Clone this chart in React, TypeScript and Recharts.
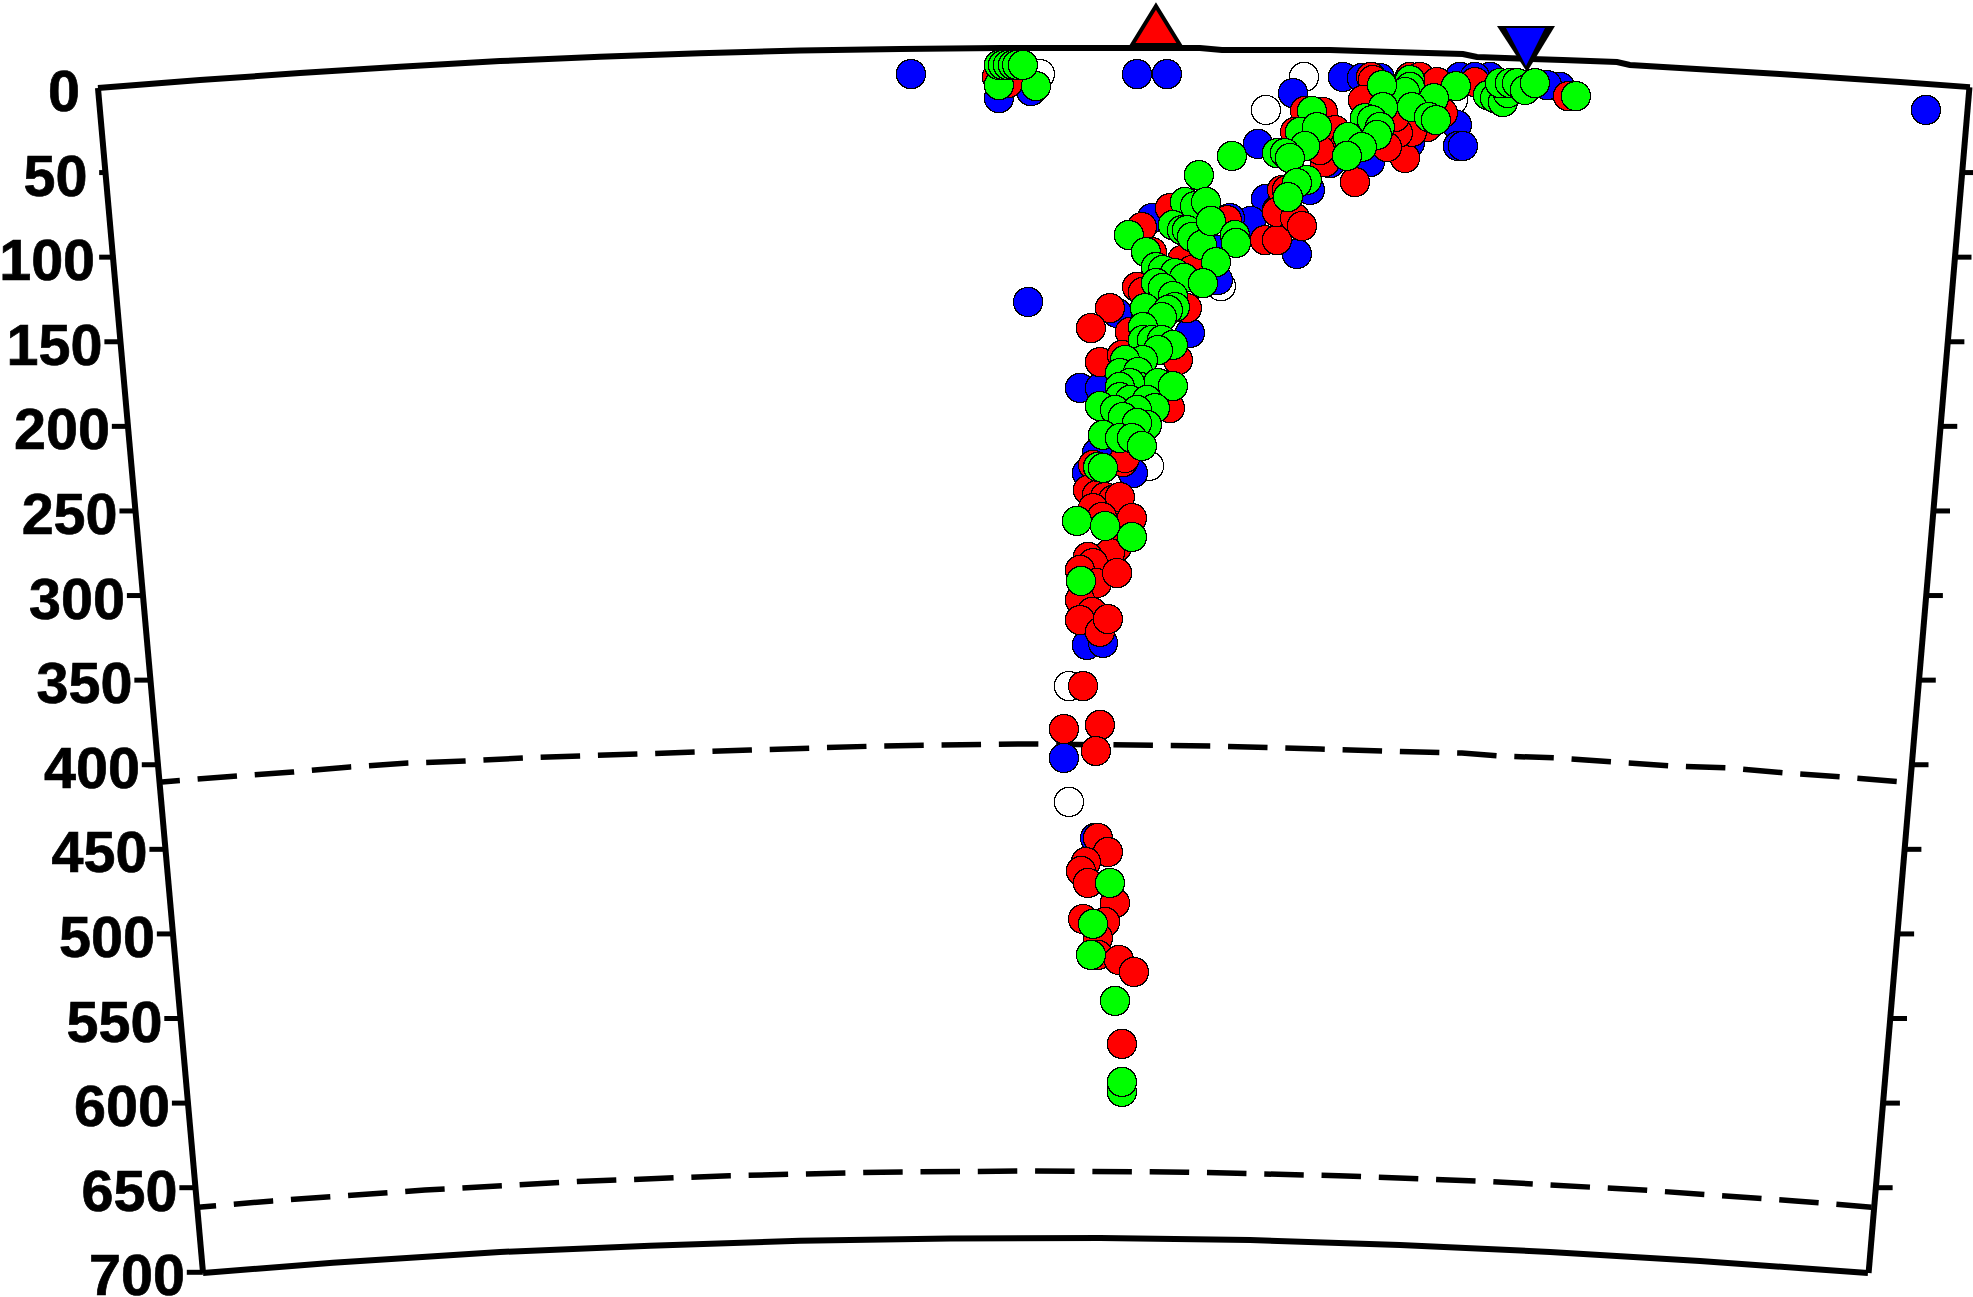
import React from "react";
import { ScatterChart, Scatter, XAxis, YAxis, ReferenceLine } from "recharts";

type P = [number, number];

// All positions in km: distance along the section, and vertical distance below the apex of the surface arc.
const depthTicks = [50, 100, 150, 200, 250, 300, 350, 400, 450, 500, 550, 600, 650, 700];
const leftEdgeKm = [-548.8, -544.3, -539.9, -535.5, -531, -526.6, -522.2, -517.8, -513.3, -508.9, -504.5, -500, -495.6, -491.2];
const rightEdgeKm = [548.4, 544.1, 539.9, 535.7, 531.4, 527.2, 523, 518.7, 514.5, 510.2, 506, 501.8, 497.5];
const surfaceArcY = 23.6;

const topArc: P[] = [[-553.2, 23.6], [-492.9, 18.9], [-433.8, 14.8], [-374.7, 11], [-315.6, 7.7], [-256.5, 5.2], [-197.4, 3.1], [-138.3, 1.5], [-79.2, 0.5], [-20, 0], [98.1, 0], [111.1, 1.2], [174.9, 1.2], [212.2, 2.4], [253.5, 3.5], [261.8, 5.3], [312.6, 7.1], [344.6, 8.3], [352.2, 10], [440.9, 15.4], [511.8, 20.1], [553.2, 23.1]];
const bottomArc: P[] = [[-491.1, 724], [-414.3, 718], [-315.6, 711.6], [-226.9, 707.9], [-138.3, 705], [-49.6, 703.6], [39, 703.3], [127.7, 704.5], [216.3, 707.4], [305, 711.6], [393.6, 716.9], [492.9, 724]];
const leftEdge: P[] = [[-553.2, 23.6], [-491.1, 724]];
const rightEdge: P[] = [[552.9, 23.1], [493.3, 724]];
const disc410: P[] = [[-515.4, 433.8], [-471, 430.2], [-438, 427.9], [-404.2, 424.9], [-370, 422.6], [-336.3, 421.4], [-302, 419.6], [-268.3, 418.4], [-234.6, 417.3], [-167.8, 414.9], [-91, 412.5], [-2.4, 411.3], [105.8, 412.5], [169, 414.3], [228.1, 416.1], [252.9, 416.7], [274.8, 418.4], [309.1, 419.6], [342.8, 422], [377, 424.3], [410.7, 425.5], [445, 428.5], [478.7, 430.9], [513, 433.8]];
const disc660: P[] = [[-494, 685.1], [-450, 681.4], [-360, 675], [-270, 670], [-180, 666.5], [-90, 664.4], [0, 663.7], [90, 664.4], [180, 666.5], [270, 670], [360, 675], [450, 681.4], [495, 685.1]];

const redStation: P[] = [[72.1, -1.8]];
const blueStation: P[] = [[291.4, -13]];

const whiteEvents: P[] = [[3.5, 15.4], [137.1, 36.6], [110.5, 140.7], [159.6, 17.1], [247.6, 30.7], [68, 247], [20.7, 377.1], [20.7, 445.6]];

const blueEvents: P[] = [[-72.7, 15.4], [-20.7, 29.6], [-1.8, 25.4], [60.9, 15.4], [78.6, 15.4], [527.2, 36.6], [-3.5, 150.1], [132.4, 56.7], [137.1, 89.2], [128.2, 102.2], [115.8, 100.5], [69.7, 100.5], [108.7, 137.1], [108.2, 119.4], [182.6, 17.1], [193.8, 17.7], [204.5, 17.7], [153.1, 26.6], [250, 45.5], [250.6, 57.9], [253.5, 57.9], [198.6, 67.4], [174.9, 68], [222.2, 56.1], [163.1, 83.9], [155.4, 121.7], [310.9, 23], [303.2, 21.9], [251.8, 17.1], [269.5, 17.1], [260.6, 17.1], [27.2, 200.9], [92.2, 168.4], [49.1, 156.6], [39, 200.9], [58.5, 251.2], [31.3, 251.2], [37.2, 239.4], [31.3, 352.8], [40.8, 351.6], [17.7, 419.6], [36.1, 466.9]];

const redEvents: P[] = [[-21.9, 17.1], [-15.4, 20.7], [63.8, 105.8], [80.4, 94.6], [114.1, 101.7], [69.7, 120.6], [87.5, 125.3], [93.4, 131.2], [60.9, 141.2], [64.4, 144.2], [44.9, 153.7], [143.6, 95.7], [148.3, 83.9], [136.5, 113.5], [143.6, 113.5], [199.2, 17.1], [200.3, 18.9], [222.2, 17.1], [228.1, 17.1], [238.2, 20.1], [260.6, 20.1], [315.6, 28.4], [160.2, 37.2], [170.8, 37.8], [154.3, 49.6], [177.9, 48.5], [172, 67.4], [219.3, 65], [189.7, 79.2], [146.6, 83.9], [149.5, 83.9], [143.6, 96.9], [154.3, 100.5], [158.4, 105.2], [232.3, 46.7], [223.4, 49.6], [215.1, 50.2], [208.6, 58.5], [241.7, 38.4], [194.4, 30.7], [213.4, 40.8], [183.8, 57.3], [169, 60.3], [33.7, 165.5], [90.4, 153.7], [56.7, 167.8], [39, 185.6], [52, 181.4], [85.1, 184.4], [80.4, 212.8], [52.6, 244.7], [34.9, 246.4], [37.8, 247.6], [53.8, 242.3], [31.9, 261.2], [37.2, 264.2], [42, 265.4], [46.7, 267.1], [50.8, 265.4], [34.9, 271.9], [57.9, 277.8], [40.2, 277.2], [49.1, 294.9], [44.9, 298.5], [31.9, 300.8], [34.9, 304.4], [27.2, 308.5], [37.2, 316.2], [49.1, 310.3], [27.2, 326.2], [34.3, 333.3], [27.2, 338.1], [39, 345.1], [43.7, 337.5], [29, 377.1], [17.7, 402.5], [39, 400.1], [36.6, 415.5], [37.8, 466.9], [43.7, 475.2], [30.7, 481.1], [27.8, 486.4], [31.9, 493.5], [47.9, 505.3], [29, 514.8], [42, 516.5], [37.8, 526], [37.8, 536], [50.2, 539], [59.1, 546.1], [52, 588.6]];

const greenEvents: P[] = [[-20.7, 21.9], [1.2, 22.5], [-20.7, 10], [-18.3, 10], [-15.4, 10], [-12.4, 10], [-10, 10], [-6.5, 10], [117, 63.8], [97.5, 75.1], [89.2, 91], [95.2, 93.4], [101.7, 91], [82.1, 104.6], [87.5, 107.6], [90.4, 107.6], [93.4, 111.7], [99.3, 116.4], [104.6, 102.2], [118.8, 110.5], [119.4, 115.2], [56.1, 110.5], [66.2, 120.6], [107.6, 126.5], [72.1, 129.4], [76.2, 131.2], [83.3, 133], [88.7, 135.9], [72.1, 138.9], [76.2, 141.8], [82.1, 146.6], [99.9, 138.9], [320.3, 28.4], [268.3, 27.8], [272.5, 29.6], [277.2, 31.9], [280.1, 26.6], [275.4, 20.7], [281.3, 20.7], [285.5, 20.7], [290.2, 24.8], [296.1, 20.7], [249.4, 22.5], [222.2, 18.9], [222.2, 23], [219.3, 26], [205.7, 21.9], [236.4, 29.6], [223.4, 34.9], [233.4, 40.8], [237.6, 42.6], [206.3, 34.9], [195.6, 41.4], [199.8, 42.6], [204.5, 46.7], [202.7, 51.4], [185.6, 52.6], [193.8, 58.5], [185, 63.8], [164.3, 37.2], [157.2, 49.6], [167.3, 46.7], [160.2, 57.9], [143.6, 62.1], [148.3, 62.1], [151.3, 65], [161.3, 78], [155.4, 79.8], [150.1, 88.1], [65.6, 153.7], [83.3, 153.1], [79.2, 154.8], [75.6, 159], [64.4, 164.9], [64.4, 172.6], [69.7, 172.6], [75.6, 172.6], [82.1, 175.5], [73.3, 178.5], [64.4, 184.4], [53.8, 184.4], [50.8, 192.1], [61.5, 191.5], [62.6, 200.3], [73.3, 198], [82.1, 199.8], [56.7, 198], [50.8, 200.3], [50.8, 206.3], [56.7, 208], [39, 211.6], [47.9, 213.9], [66.8, 208], [71.5, 212.8], [60.9, 213.9], [52.6, 218.1], [66.8, 222.8], [60.9, 221.6], [40.8, 228.7], [50.8, 230.5], [57.9, 230.5], [63.8, 235.2], [38, 247.6], [40.8, 248.2], [25.4, 279.5], [42, 282.5], [57.9, 289], [27.8, 315], [44.9, 493.5], [34.9, 517.7], [33.7, 536], [47.9, 563.2], [52, 617], [52, 611.1]];

const toPts = (list: P[]) => list.map(([x, y]) => ({ x, y }));

const Dot = (fill: string) => (p: any) => <circle cx={p.cx} cy={p.cy} r={14.6} fill={fill} stroke="#000" strokeWidth={1.2} shapeRendering="crispEdges" />;
const NoDot = () => <g />;

const RedTriangle = (p: any) => (
  <path d={`M${p.cx},${p.cy - 39} L${p.cx - 24},${p.cy} L${p.cx + 24},${p.cy} Z`} fill="#ff0000" stroke="#000" strokeWidth={4} />
);
const BlueTriangle = (p: any) => (
  <g>
    <path d={`M${p.cx - 30},${p.cy} L${p.cx + 28},${p.cy} L${p.cx},${p.cy + 46} Z`} fill="#000" />
    <path d={`M${p.cx - 21},${p.cy + 2} L${p.cx + 18},${p.cy + 2} L${p.cx - 1},${p.cy + 40} Z`} fill="#0000ff" />
  </g>
);
const TickText = (p: any) => (
  <text x={p.cx} y={p.cy + 23} textAnchor="end" fontFamily="'Liberation Sans', Arial, sans-serif" fontWeight="bold" fontSize={57.5} fill="#000" stroke="#000" strokeWidth={0.7}>
    {p.payload.label}
  </text>
);

const labelPoints = [
  { x: -553.2 - 10.6, y: surfaceArcY, label: "0" },
  ...depthTicks.map((d, i) => ({ x: leftEdgeKm[i] - 10.6, y: surfaceArcY + d, label: String(d) })),
];

const frameLine = { stroke: "#000", strokeWidth: 6, fill: "none" };
const dashLine = { stroke: "#000", strokeWidth: 5.5, strokeDasharray: "39.5 17.8", strokeDashoffset: 21.5, fill: "none" };

export default function App() {
  return (
    <div style={{ position: "absolute", left: 0, top: 0, width: 1973, height: 1297, background: "#fff" }}>
      <ScatterChart width={1973} height={1297} margin={{ top: 0, right: 0, bottom: 0, left: 0 }}>
        <XAxis type="number" dataKey="x" domain={[-611.1, 555]} allowDataOverflow hide />
        <YAxis type="number" dataKey="y" domain={[-28.4, 738.2]} allowDataOverflow reversed hide />
        {depthTicks.map((d, i) => (
          <ReferenceLine key={`l${d}`} ifOverflow="visible" stroke="#000" strokeWidth={5}
            segment={[{ x: Math.max(leftEdgeKm[i] - 9.5, -552.5), y: surfaceArcY + d }, { x: leftEdgeKm[i], y: surfaceArcY + d }]} />
        ))}
        {rightEdgeKm.map((xk, i) => (
          <ReferenceLine key={`r${i}`} ifOverflow="visible" stroke="#000" strokeWidth={5}
            segment={[{ x: xk, y: surfaceArcY + depthTicks[i] }, { x: xk + 10, y: surfaceArcY + depthTicks[i] }]} />
        ))}
        <Scatter data={toPts(topArc)} line={frameLine} shape={NoDot} isAnimationActive={false} />
        <Scatter data={toPts(bottomArc)} line={frameLine} shape={NoDot} isAnimationActive={false} />
        <Scatter data={toPts(leftEdge)} line={frameLine} shape={NoDot} isAnimationActive={false} />
        <Scatter data={toPts(rightEdge)} line={frameLine} shape={NoDot} isAnimationActive={false} />
        <Scatter data={toPts(disc410)} line={dashLine} shape={NoDot} isAnimationActive={false} />
        <Scatter data={toPts(disc660)} line={dashLine} shape={NoDot} isAnimationActive={false} />
        <Scatter data={labelPoints} shape={TickText} isAnimationActive={false} />
        <Scatter data={toPts(redStation)} shape={RedTriangle} isAnimationActive={false} />
        <Scatter data={toPts(blueStation)} shape={BlueTriangle} isAnimationActive={false} />
        <Scatter data={toPts(whiteEvents)} shape={Dot("#ffffff")} isAnimationActive={false} />
        <Scatter data={toPts(blueEvents)} shape={Dot("#0000ff")} isAnimationActive={false} />
        <Scatter data={toPts(redEvents)} shape={Dot("#ff0000")} isAnimationActive={false} />
        <Scatter data={toPts(greenEvents)} shape={Dot("#00ff00")} isAnimationActive={false} />
      </ScatterChart>
    </div>
  );
}
